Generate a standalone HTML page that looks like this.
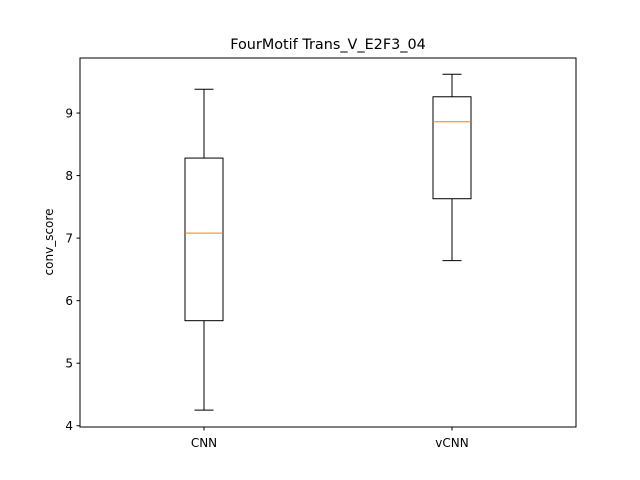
<!DOCTYPE html>
<html><head><meta charset="utf-8"><style>
body{margin:0;background:#fff;}
svg{display:block;font-family:"DejaVu Sans","Liberation Sans",sans-serif;}
</style></head><body>
<svg id="chart" width="640" height="480">
<rect width="640" height="480" fill="#fff"/>
<text x="328" y="49" font-size="14.4" text-anchor="middle">FourMotif Trans_V_E2F3_04</text>
<text transform="translate(53,242) rotate(-90)" font-size="12" text-anchor="middle">conv_score</text>
<g id="marks"></g>
<rect x="80" y="58" width="496" height="369" fill="none" stroke="#000" stroke-width="1"/>
</svg>
<script>
const categories = ["CNN", "vCNN"];
const whiskerLow = [4.25, 6.64];
const q1 = [5.68, 7.63];
const median = [7.08, 8.86];
const q3 = [8.28, 9.26];
const whiskerHigh = [9.38, 9.62];
const yTicks = [4, 5, 6, 7, 8, 9];

const yMin = 3.98, yMax = 9.88, plotTop = 58, plotBottom = 427, plotLeft = 80, plotRight = 576;
const yScale = v => plotBottom - (v - yMin) / (yMax - yMin) * (plotBottom - plotTop);
const ns = "http://www.w3.org/2000/svg";
const g = document.getElementById("marks");
function mk(tag, attrs, parent) {
  const e = document.createElementNS(ns, tag);
  for (const k in attrs) e.setAttribute(k, attrs[k]);
  (parent || g).appendChild(e);
  return e;
}
yTicks.forEach(t => {
  const tk = mk("line", {x1: plotLeft - 3.5, x2: plotLeft, y1: yScale(t), y2: yScale(t), stroke: "#000"});
  
  
  const lb = mk("text", {x: plotLeft - 7, y: yScale(t) + 4.5, "font-size": 12, "text-anchor": "end"});
  lb.textContent = t;
  
  
});
categories.forEach((c, i) => {
  const cx = plotLeft + (plotRight - plotLeft) * (2 * i + 1) / 4;
  const bw = 38, cw = 19;
  const grp = mk("g", {});
  
  
  mk("line", {x1: cx, x2: cx, y1: yScale(whiskerLow[i]), y2: yScale(q1[i]), stroke: "#000"}, grp);
  mk("line", {x1: cx, x2: cx, y1: yScale(q3[i]), y2: yScale(whiskerHigh[i]), stroke: "#000"}, grp);
  mk("line", {x1: cx - cw / 2, x2: cx + cw / 2, y1: yScale(whiskerLow[i]), y2: yScale(whiskerLow[i]), stroke: "#000"}, grp);
  mk("line", {x1: cx - cw / 2, x2: cx + cw / 2, y1: yScale(whiskerHigh[i]), y2: yScale(whiskerHigh[i]), stroke: "#000"}, grp);
  mk("rect", {x: cx - bw / 2, y: yScale(q3[i]), width: bw, height: yScale(q1[i]) - yScale(q3[i]), fill: "none", stroke: "#000"}, grp);
  mk("line", {x1: cx - bw / 2, x2: cx + bw / 2, y1: yScale(median[i]), y2: yScale(median[i]), stroke: "#ff7f0e"}, grp);
  const tk = mk("line", {x1: cx, x2: cx, y1: plotBottom, y2: plotBottom + 3.5, stroke: "#000"});
  
  
  const lb = mk("text", {x: cx, y: plotBottom + 20, "font-size": 12, "text-anchor": "middle"});
  lb.textContent = c;
  
  
});
</script>
</body></html>
